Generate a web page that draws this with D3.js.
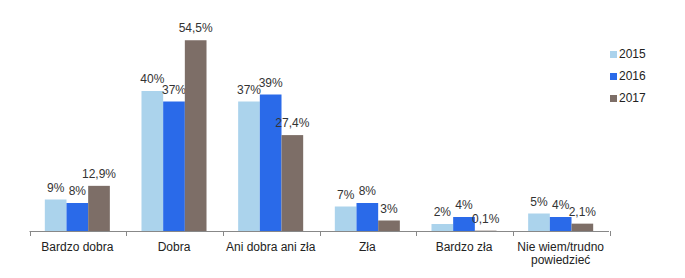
<!DOCTYPE html>
<html><head><meta charset="utf-8">
<script src="https://cdn.jsdelivr.net/npm/d3@7"></script>
<style>body{margin:0;background:#fff;} text{font-family:"Liberation Sans",Arial,sans-serif;}</style>
</head><body>
<svg id="c" width="685" height="278"></svg>
<script>
const categories = ["Bardzo dobra", "Dobra", "Ani dobra ani zła", "Zła", "Bardzo zła", "Nie wiem/trudno powiedzieć"];
const series = ["2015", "2016", "2017"];
const values2015 = [9, 40, 37, 7, 2, 5];
const values2016 = [8, 37, 39, 8, 4, 4];
const values2017 = [12.9, 54.5, 27.4, 3, 0.1, 2.1];
const labels2015 = ["9%", "40%", "37%", "7%", "2%", "5%"];
const labels2016 = ["8%", "37%", "39%", "8%", "4%", "4%"];
const labels2017 = ["12,9%", "54,5%", "27,4%", "3%", "0,1%", "2,1%"];
const colors = ["#ABD3EC", "#2A6AE9", "#7D6E67"];

const allValues = [values2015, values2016, values2017];
const allLabels = [labels2015, labels2016, labels2017];

const svg = d3.select("#c");
const x0 = d3.scaleBand().domain(categories).range([29, 609]).paddingInner(0).paddingOuter(0);
const x1 = d3.scaleBand().domain(series).range([0, x0.bandwidth()]).paddingInner(0).paddingOuter(0.73);
const y = d3.scaleLinear().domain([0, 60]).range([231, 21]);

const groups = svg.append("g").selectAll("g").data(categories).join("g")
  .attr("transform", d => `translate(${x0(d)},0)`);

series.forEach((s, si) => {
  groups.append("rect")
    .attr("x", x1(s))
    .attr("width", x1.bandwidth())
    .attr("y", (d, i) => y(allValues[si][i]))
    .attr("height", (d, i) => y(0) - y(allValues[si][i]))
    .attr("fill", colors[si]);
  groups.append("text")
    .attr("x", x1(s) + x1.bandwidth() / 2)
    .attr("y", (d, i) => y(allValues[si][i]) - 8)
    .attr("text-anchor", "middle")
    .attr("font-size", 12)
    .attr("fill", "#333")
    .text((d, i) => allLabels[si][i]);
});

// axis
const axis = d3.axisBottom(x0).tickSize(0).tickFormat("");
const ax = svg.append("g").attr("transform", "translate(0,231)").call(axis);
ax.select(".domain").attr("stroke", "#888").attr("d", "M29.5,0.5H609");
const tickPos = d3.range(categories.length + 1).map(i => 29.5 + i * x0.step());
svg.append("g").selectAll("line").data(tickPos).join("line")
  .attr("x1", d => Math.round(d) + 0.5).attr("x2", d => Math.round(d) + 0.5)
  .attr("y1", 231).attr("y2", 236).attr("stroke", "#888");

// category labels
svg.append("g").selectAll("text").data(categories).join("text")
  .attr("text-anchor", "middle")
  .attr("font-size", 12)
  .attr("fill", "#222")
  .attr("x", d => x0(d) + x0.bandwidth() / 2)
  .attr("y", 251)
  .each(function(d) {
    const t = d3.select(this);
    const lines = d === "Nie wiem/trudno powiedzieć" ? ["Nie wiem/trudno", "powiedzieć"] : [d];
    lines.forEach((l, li) => t.append("tspan").attr("x", x0(d) + x0.bandwidth() / 2).attr("dy", li ? 13 : 0).text(l));
  });

// legend
const lg = svg.append("g").selectAll("g").data(series).join("g")
  .attr("transform", (d, i) => `translate(610,${51 + i * 22})`);
lg.append("rect").attr("width", 7).attr("height", 7).attr("fill", (d, i) => colors[i]);
lg.append("text").attr("x", 9).attr("y", 7).attr("font-size", 12).attr("fill", "#222").text(d => d);
</script>
</body></html>
